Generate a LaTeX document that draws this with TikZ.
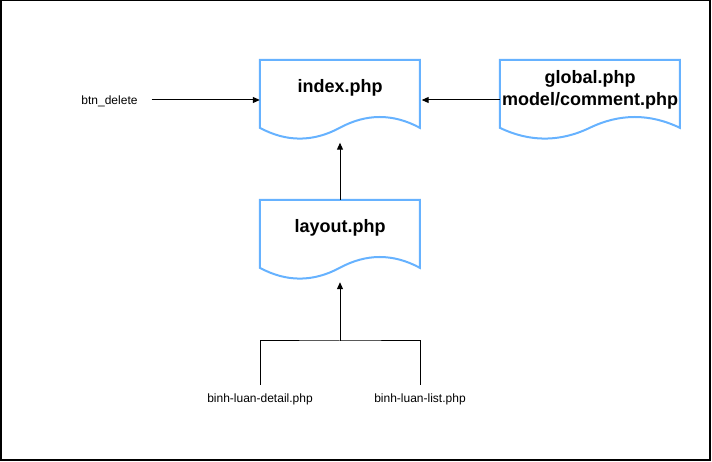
\documentclass[tikz,border=0pt]{standalone}
\usepackage{fontspec}
\setmainfont{Liberation Sans}
\usetikzlibrary{calc,arrows.meta}
\definecolor{docblue}{HTML}{66B2FF}
\tikzset{
  docbox/.style={draw=none, inner sep=0pt, minimum height=80pt},
  docline/.style={draw=docblue, line width=2pt, line join=miter},
  doclabel/.style={font=\fontsize{18}{21.6}\selectfont\bfseries, align=center, inner sep=0pt},
  smalltext/.style={font=\fontsize{12}{14}\selectfont, inner sep=0pt},
  conn/.style={draw=black, line width=1pt},
  arr/.style={conn, -{Triangle[length=7pt,width=6pt]}},
}
\newcommand\docoutline[2]{%
  \draw[docline, shift={(#1.north west)}] (0,0) -- (#2,0) -- (#2,-68)
    .. controls ({5*#2/6},-53.6) and ({2*#2/3},-53.6) .. ({#2/2},-68)
    .. controls ({#2/3},-82.4) and ({#2/6},-82.4) .. (0,-68) -- cycle;}
\begin{document}
\begin{tikzpicture}[x=1pt,y=1pt]
  \useasboundingbox (0,0) rectangle (712,462);
  \draw[line width=1.5pt] (0.75,461.25) rectangle (710,2);

  \node[docbox, minimum width=160pt,
        label={[doclabel, yshift=12pt]center:index.php}] (idx) at (340,362) {};
  \node[docbox, minimum width=180pt,
        label={[doclabel, yshift=10pt]center:global.php\\model/comment.php}] (glb) at (590,362) {};
  \node[docbox, minimum width=160pt,
        label={[doclabel, yshift=12pt]center:layout.php}] (lay) at (340,222) {};
  \docoutline{idx}{160}
  \docoutline{glb}{180}
  \docoutline{lay}{160}

  \node[smalltext, text height=8.6pt, text depth=0pt, inner xsep=14pt] (btn) at (109.5,362) {btn\_delete};
  \node[smalltext, anchor=base, text height=9pt, text depth=3pt, inner ysep=8.5pt] (det) at (260,59.5) {binh-luan-detail.php};
  \node[smalltext, anchor=base, text height=9pt, text depth=3pt, inner ysep=8.5pt] (lst) at (420,59.5) {binh-luan-list.php};
  \coordinate (jn) at (340,121);

  \draw[arr] (btn.east) -- (idx.west);
  \draw[arr, shorten >=1.5pt] (glb.west) -- (idx.east);
  \draw[arr, shorten >=2.5pt] (lay.north) -- (idx.south);
  \draw[conn] (det.north) |- (jn) -| (lst.north);
  \draw[arr, shorten >=2pt] (jn) -- (lay.south);
\end{tikzpicture}
\end{document}
